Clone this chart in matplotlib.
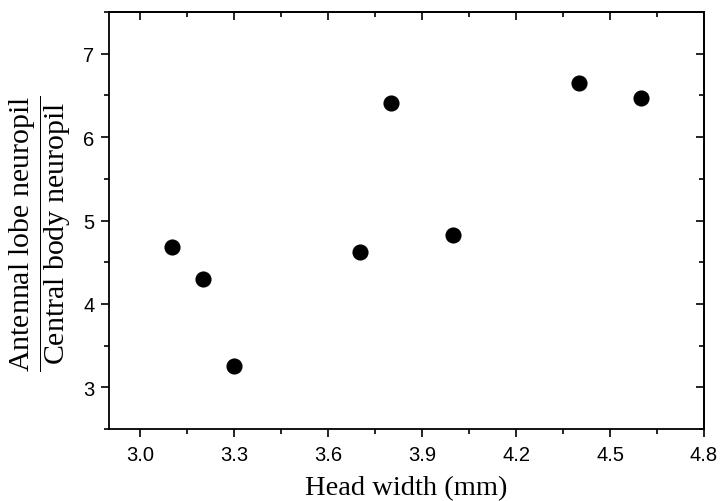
import matplotlib
matplotlib.use("Agg")
import matplotlib.pyplot as plt
from matplotlib.ticker import MultipleLocator

# Head width vs. antennal-lobe / central-body neuropil volume ratio
head_width = [3.1, 3.2, 3.3, 3.7, 3.8, 4.0, 4.4, 4.6]
neuropil_ratio = [4.68, 4.30, 3.25, 4.62, 6.41, 4.83, 6.65, 6.47]
x_ticks = [3.0, 3.3, 3.6, 3.9, 4.2, 4.5, 4.8]
x_tick_labels = ["3.0", "3.3", "3.6", "3.9", "4.2", "4.5", "4.8"]
y_ticks = [3, 4, 5, 6, 7]
y_tick_labels = ["3", "4", "5", "6", "7"]

plt.rcParams["mathtext.fontset"] = "custom"
plt.rcParams["mathtext.rm"] = "Liberation Serif"
plt.rcParams["mathtext.it"] = "Liberation Serif:italic"

fig = plt.figure(figsize=(7.21, 5.02), dpi=100)
ax = fig.add_axes([109 / 721, 1 - 430 / 502, (704 - 109) / 721, (430 - 13) / 502])

ax.scatter(head_width, neuropil_ratio, s=135, color="black", zorder=3, linewidths=0)

ax.set_xlim(2.9, 4.8)
ax.set_ylim(2.5, 7.5)
ax.xaxis.set_minor_locator(MultipleLocator(0.15))
ax.yaxis.set_minor_locator(MultipleLocator(0.5))
ax.set_xticks(x_ticks)
ax.set_xticklabels(x_tick_labels)
ax.set_yticks(y_ticks)
ax.set_yticklabels(y_tick_labels)

for sp in ax.spines.values():
    sp.set_linewidth(1.3)

ax.tick_params(which="both", direction="out", width=1.2, labelsize=14.5,
               labelfontfamily="Liberation Sans", top=False, right=False)
ax.tick_params(which="major", length=5.5, pad=5)
ax.tick_params(axis="x", which="major", pad=6)
ax.tick_params(which="minor", length=3.5)

# mirrored inward ticks on top and right
axt = ax.secondary_xaxis("top")
axt.xaxis.set_major_locator(MultipleLocator(0.3))
axt.xaxis.set_minor_locator(MultipleLocator(0.15))
axt.tick_params(which="both", direction="in", width=1.2, labeltop=False)
axt.tick_params(which="major", length=5.5)
axt.tick_params(which="minor", length=3.5)
axt.spines["top"].set_linewidth(1.3)
axr = ax.secondary_yaxis("right")
axr.yaxis.set_major_locator(MultipleLocator(1))
axr.yaxis.set_minor_locator(MultipleLocator(0.5))
axr.tick_params(which="both", direction="in", width=1.2, labelright=False)
axr.tick_params(which="major", length=5.5)
axr.tick_params(which="minor", length=3.5)
axr.spines["right"].set_linewidth(1.3)

ax.set_xlabel("Head width (mm)", fontsize=20.5, family="Liberation Serif", labelpad=8)

fig.text(40 / 721, 1 - 234 / 502,
         r"$\dfrac{\mathrm{Antennal\ lobe\ neuropil}}{\mathrm{Central\ body\ neuropil}}$",
         rotation=90, ha="center", va="center", fontsize=21.5)

fig.savefig("out.png", dpi=100)
